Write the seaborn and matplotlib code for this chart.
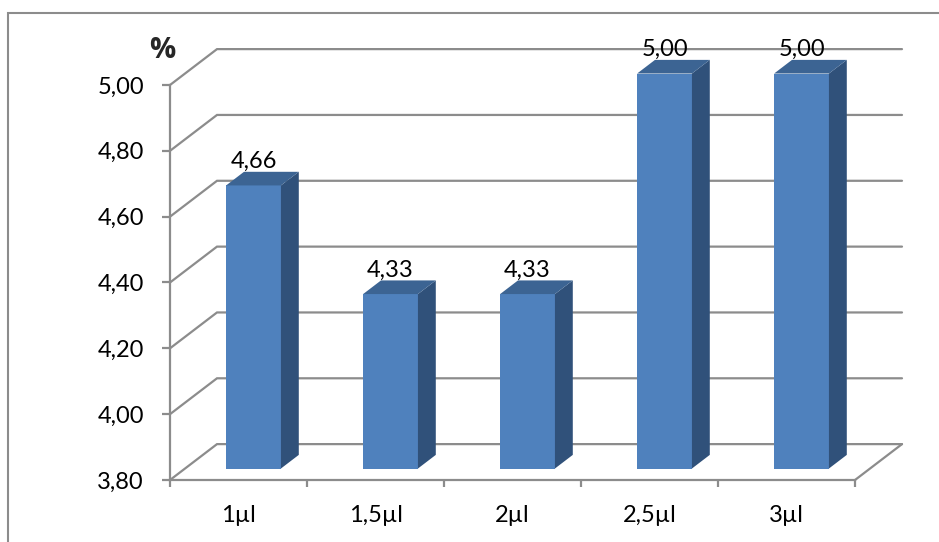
import matplotlib
matplotlib.use("Agg")
import matplotlib.pyplot as plt
from matplotlib.patches import Polygon, Rectangle
from matplotlib.ticker import FuncFormatter
import pandas as pd
import seaborn as sns

# Data
categories = ["1µl", "1,5µl", "2µl", "2,5µl", "3µl"]
values = [4.66, 4.33, 4.33, 5.00, 5.00]
y_ticks = [3.80, 4.00, 4.20, 4.40, 4.60, 4.80, 5.00]
unit_label = "%"

# Styling
FRONT = "#4F81BD"
TOP = "#3C6493"
SIDE = "#30517A"
GRID = "#8C8C8C"
FONT_SIZE = 17

# Oblique projection of the box depth, in data units (one full depth step)
DX, DY = 0.343, 0.109
BAR_FRONT, BAR_DEPTH = 0.32, 0.38


def depth(x, y, d):
    """Project a point (x, y) lying at depth d (0 = front, 1 = back wall)."""
    return (x + d * DX, y + d * DY)


def fmt(v):
    return f"{v:.2f}".replace(".", ",")


sns.set_theme(style="white")
plt.rcParams["font.family"] = ["Lato", "DejaVu Sans"]

fig = plt.figure(figsize=(9.39, 5.42), dpi=100)
ax = fig.add_axes([170 / 939, 62 / 542, 685 / 939, 395 / 542])
ax.set_facecolor("none")

df = pd.DataFrame({"dose": categories, "value": values})
sns.barplot(data=df, x="dose", y="value", color=FRONT, saturation=1,
            width=0.40, linewidth=0, ax=ax, zorder=3)

ymin, ymax = y_ticks[0], y_ticks[-1]
xl, xr = -0.5, len(categories) - 0.5
ax.set_xlim(xl, xr)
ax.set_ylim(ymin, ymax)

# Walls: side-wall diagonals + back-wall gridlines
for t in y_ticks:
    pts = [depth(xl, t, 0), depth(xl, t, 1), depth(xr, t, 1)]
    xs, ys = zip(*pts)
    ax.plot(xs, ys, color=GRID, lw=1.6, clip_on=False, zorder=1,
            solid_joinstyle="miter")
# Right edge of the floor
xs, ys = zip(depth(xr, ymin, 0), depth(xr, ymin, 1))
ax.plot(xs, ys, color=GRID, lw=1.6, clip_on=False, zorder=1)

# Turn the flat bars into boxes standing on the floor
d0, d1 = BAR_FRONT, BAR_FRONT + BAR_DEPTH
for p in ax.patches[: len(categories)]:
    x0, w, h = p.get_x(), p.get_width(), p.get_height()
    x1 = x0 + w
    fx, fy = depth(x0, ymin, d0)
    p.set_x(fx)
    p.set_y(fy)
    p.set_height(h - ymin)
    p.set_clip_on(False)

    side = [depth(x1, ymin, d0), depth(x1, h, d0), depth(x1, h, d1), depth(x1, ymin, d1)]
    top = [depth(x0, h, d0), depth(x1, h, d0), depth(x1, h, d1), depth(x0, h, d1)]
    ax.add_patch(Polygon(side, closed=True, fc=SIDE, ec="none", clip_on=False, zorder=3))
    ax.add_patch(Polygon(top, closed=True, fc=TOP, ec="none", clip_on=False, zorder=3))

    lx = depth(x0 + w / 2, h, d0)[0]
    ly = depth(x0 + w / 2, h, d1)[1]
    ax.annotate(fmt(h), xy=(lx, ly), xytext=(0, 4), textcoords="offset pixels",
                ha="center", va="baseline", fontsize=FONT_SIZE, color="black",
                annotation_clip=False, zorder=5)

# Axes lines and ticks
for side_name in ["top", "right"]:
    ax.spines[side_name].set_visible(False)
for side_name in ["left", "bottom"]:
    ax.spines[side_name].set_color(GRID)
    ax.spines[side_name].set_linewidth(1.6)
    ax.spines[side_name].set_zorder(1)

ax.set_yticks(y_ticks)
ax.yaxis.set_major_formatter(FuncFormatter(lambda v, _: fmt(v)))
ax.tick_params(axis="y", left=True, direction="out", length=5.8, width=1.6,
               color=GRID, pad=13, labelsize=FONT_SIZE, labelcolor="black")

ax.set_xticks(range(len(categories)))
ax.set_xticklabels(categories)
ax.set_xticks([i - 0.5 for i in range(len(categories) + 1)], minor=True)
ax.tick_params(axis="x", which="major", bottom=True, length=0, pad=18,
               labelsize=FONT_SIZE, labelcolor="black")
ax.tick_params(axis="x", which="minor", bottom=True, direction="out", length=5,
               width=1.6, color=GRID)
ax.set_xlabel("")
ax.set_ylabel("")

ax.annotate(unit_label, xy=(0, 1), xycoords="axes fraction", xytext=(-8, 34),
            textcoords="offset pixels", ha="center", va="center",
            fontsize=21, fontweight="bold", family=["Open Sans", "DejaVu Sans"],
            annotation_clip=False)

# Chart-area frame
fig.patches.append(Rectangle((8 / 939, -0.1), 1.2, 1.1 - 12.5 / 542,
                             transform=fig.transFigure, fill=False,
                             edgecolor=GRID, linewidth=1.5))

fig.savefig("out.png", dpi=100)
